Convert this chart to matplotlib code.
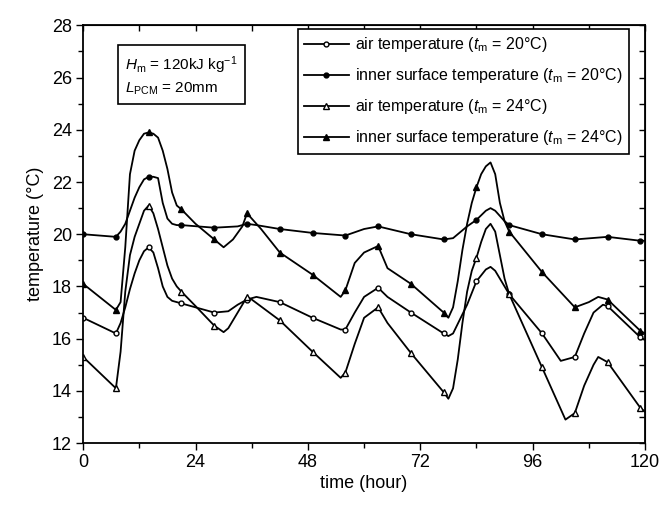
import numpy as np
import matplotlib
matplotlib.use('Agg')
import matplotlib.pyplot as plt
from matplotlib.ticker import MultipleLocator

plt.rcParams['font.family'] = ['Liberation Sans', 'DejaVu Sans']
plt.rcParams['mathtext.fontset'] = 'custom'
plt.rcParams['mathtext.rm'] = 'Liberation Sans'
plt.rcParams['mathtext.it'] = 'Liberation Sans:italic'

# inner surface temperature, tm = 20 C
t_in20 = [0, 7, 8, 9, 10, 11, 12, 13, 14, 15, 16, 17, 18, 19, 20, 21, 28, 33, 35, 37,
          42, 49, 56, 60, 63, 70, 77, 79, 80, 82, 84, 86, 87, 88, 90, 91, 98, 105, 112, 119, 120]
T_in20 = [20.0, 19.9, 20.1, 20.4, 20.9, 21.4, 21.8, 22.1, 22.2, 22.2, 22.15, 21.2, 20.6, 20.4, 20.35, 20.35,
          20.25, 20.3, 20.4, 20.35, 20.2, 20.05, 19.95, 20.2, 20.3, 20.0, 19.8, 19.85, 20.0, 20.3,
          20.55, 20.9, 21.0, 20.9, 20.5, 20.35, 20.0, 19.8, 19.9, 19.75, 19.75]

# inner surface temperature, tm = 24 C
t_in24 = [0, 7, 8, 9, 10, 11, 12, 13, 14, 15, 16, 17, 18, 19, 20, 21, 24, 28, 30, 32, 34, 35,
          36, 38, 42, 49, 55, 56, 58, 60, 63, 65, 70, 77, 78, 79, 80, 81, 82, 83, 84, 85, 86,
          87, 88, 89, 90, 91, 98, 105, 108, 110, 112, 119, 120]
T_in24 = [18.1, 17.1, 17.4, 19.5, 22.3, 23.2, 23.6, 23.85, 23.9, 23.85, 23.7, 23.2, 22.5, 21.6,
          21.1, 20.95, 20.4, 19.8, 19.5, 19.8, 20.3, 20.8, 20.6, 20.2, 19.3, 18.45, 17.6, 17.85,
          18.9, 19.3, 19.55, 18.7, 18.1, 17.0, 16.8, 17.2, 18.2, 19.4, 20.4, 21.2, 21.8, 22.3,
          22.6, 22.75, 22.3, 21.2, 20.5, 20.1, 18.55, 17.2, 17.4, 17.6, 17.5, 16.3, 16.2]

# air temperature, tm = 20 C
t_air20 = [0, 7, 8, 9, 10, 11, 12, 13, 14, 15, 16, 17, 18, 19, 21, 28, 31, 33, 35, 37, 42,
           49, 55, 56, 58, 60, 63, 65, 70, 77, 78, 79, 82, 84, 86, 87, 88, 91, 98, 102, 105,
           107, 109, 111, 112, 119, 120]
T_air20 = [16.8, 16.2, 16.6, 17.2, 17.9, 18.5, 19.0, 19.35, 19.5, 19.3, 18.7, 18.0, 17.6, 17.45,
           17.35, 17.0, 17.05, 17.3, 17.5, 17.6, 17.4, 16.8, 16.35, 16.35, 17.0, 17.6, 17.95,
           17.6, 17.0, 16.2, 16.1, 16.2, 17.3, 18.2, 18.65, 18.75, 18.6, 17.7, 16.2, 15.15,
           15.3, 16.2, 17.0, 17.3, 17.25, 16.05, 15.95]

# air temperature, tm = 24 C
t_air24 = [0, 7, 8, 9, 10, 11, 12, 13, 14, 15, 16, 17, 18, 19, 20, 21, 24, 28, 30, 31, 33,
           35, 36, 42, 49, 55, 56, 58, 60, 63, 65, 70, 77, 78, 79, 80, 81, 82, 83, 84, 85, 86,
           87, 88, 89, 90, 91, 98, 103, 105, 107, 109, 110, 112, 119, 120]
T_air24 = [15.3, 14.1, 15.5, 17.8, 19.2, 19.9, 20.4, 20.9, 21.1, 20.8, 20.2, 19.5, 18.8, 18.3,
           18.0, 17.8, 17.25, 16.5, 16.25, 16.4, 17.0, 17.6, 17.5, 16.7, 15.5, 14.5, 14.7, 15.8,
           16.8, 17.2, 16.6, 15.45, 13.95, 13.7, 14.1, 15.2, 16.6, 17.8, 18.6, 19.1, 19.7, 20.2,
           20.4, 20.1, 19.2, 18.3, 17.7, 14.9, 12.9, 13.15, 14.2, 15.0, 15.3, 15.1, 13.35, 13.2]

labels = [r'air temperature ($t_{\rm m}$ = 20°C)',
          r'inner surface temperature ($t_{\rm m}$ = 20°C)',
          r'air temperature ($t_{\rm m}$ = 24°C)',
          r'inner surface temperature ($t_{\rm m}$ = 24°C)']

fig = plt.figure(figsize=(6.65, 5.07), dpi=100)
ax = fig.add_axes([0.125, 0.126, 0.845, 0.824])


def every7(times):
    return [i for i, t in enumerate(times) if t % 7 == 0]


series = [
    (t_air20, T_air20, dict(marker='o', ms=3.5, mfc='white')),
    (t_in20, T_in20, dict(marker='o', ms=3.5, mfc='black')),
    (t_air24, T_air24, dict(marker='^', ms=5, mfc='white')),
    (t_in24, T_in24, dict(marker='^', ms=5, mfc='black')),
]
for (t, T, st), lab in zip(series, labels):
    ax.plot(t, T, color='black', lw=1.3, mec='black', mew=1.0,
            markevery=every7(t), label=lab, **st)

ax.set_xlim(0, 120)
ax.set_ylim(12, 28)
ax.xaxis.set_major_locator(MultipleLocator(24))
ax.xaxis.set_minor_locator(MultipleLocator(12))
ax.yaxis.set_major_locator(MultipleLocator(2))
ax.yaxis.set_minor_locator(MultipleLocator(1))
ax.tick_params(which='both', direction='out', labelsize=13, width=1.0, pad=3)
ax.tick_params(which='major', length=5)
ax.tick_params(which='minor', length=3.5)
for s in ax.spines.values():
    s.set_linewidth(1.3)

# inward ticks on top and right frame
top = ax.secondary_xaxis('top')
top.xaxis.set_major_locator(MultipleLocator(12))
top.tick_params(direction='in', length=4, labeltop=False, width=1.0)
right = ax.secondary_yaxis('right')
right.yaxis.set_major_locator(MultipleLocator(1))
right.tick_params(direction='in', length=4, labelright=False, width=1.0)

ax.set_xlabel('time (hour)', fontsize=13, labelpad=3)
ax.set_ylabel('temperature (°C)', fontsize=13, labelpad=6)

leg = ax.legend(loc='upper right', bbox_to_anchor=(0.9715, 0.9916), borderaxespad=0,
                fontsize=11.5, frameon=True, fancybox=False, edgecolor='black',
                handlelength=2.8, labelspacing=0.75, borderpad=0.4, handletextpad=0.4)
leg.get_frame().set_linewidth(1.2)
leg.get_frame().set_alpha(1)

ax.text(0.075, 0.93, '$H_{\\rm m}$ = 120kJ kg$^{-1}$\n$L_{\\rm PCM}$ = 20mm',
        transform=ax.transAxes, ha='left', va='top', fontsize=11, linespacing=1.35,
        bbox=dict(boxstyle='square,pad=0.5', fc='white', ec='black', lw=1.2))

fig.savefig('out.png', dpi=100)
